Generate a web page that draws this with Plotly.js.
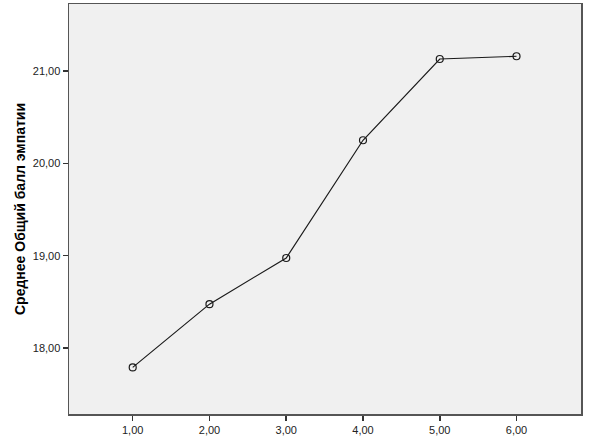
<!DOCTYPE html>
<html>
<head>
<meta charset="utf-8">
<script src="https://cdn.plot.ly/plotly-3.0.1.min.js"></script>
<style>
  body { margin: 0; background: #fff; }
  #chart { width: 601px; height: 440px; }
</style>
</head>
<body>
<div id="chart"></div>
<script>
var groups = [1, 2, 3, 4, 5, 6];
var means = [17.79, 18.475, 18.975, 20.25, 21.13, 21.16];
var xTicks = [1, 2, 3, 4, 5, 6];
var xLabels = ['1,00', '2,00', '3,00', '4,00', '5,00', '6,00'];
var yTicks = [18, 19, 20, 21];
var yLabels = ['18,00', '19,00', '20,00', '21,00'];

var data = [{
  x: groups,
  y: means,
  type: 'scatter',
  mode: 'lines+markers',
  line: { color: '#1a1a1a', width: 1.2 },
  marker: { symbol: 'circle-open', size: 7, color: '#1a1a1a', line: { width: 1.2 } },
  hoverinfo: 'none',
  showlegend: false
}];

var layout = {
  width: 601,
  height: 440,
  margin: { l: 69, r: 20, t: 4, b: 26 },
  paper_bgcolor: '#ffffff',
  plot_bgcolor: '#f0f0f0',
  font: { family: 'Liberation Sans, Arial, sans-serif', size: 11, color: '#222' },
  xaxis: {
    range: [0.17, 6.84],
    tickvals: xTicks,
    ticktext: xLabels,
    ticks: 'outside',
    ticklen: 5,
    tickwidth: 1.5,
    tickcolor: '#333',
    showgrid: false,
    zeroline: false,
    showline: true,
    linecolor: '#555',
    linewidth: 1.5,
    mirror: true,
    tickfont: { size: 11, color: '#222' }
  },
  yaxis: {
    range: [17.285, 21.726],
    tickvals: yTicks,
    ticktext: yLabels,
    ticks: 'outside',
    ticklen: 5,
    tickwidth: 1.5,
    tickcolor: '#333',
    showgrid: false,
    zeroline: false,
    showline: true,
    linecolor: '#555',
    linewidth: 1.5,
    mirror: true,
    tickfont: { size: 11, color: '#222' },
    title: {
      text: '<b>Среднее Общий балл эмпатии</b>',
      font: { size: 14, color: '#000' },
      standoff: 4
    }
  }
};

Plotly.newPlot('chart', data, layout, { staticPlot: true, displayModeBar: false });
</script>
</body>
</html>
